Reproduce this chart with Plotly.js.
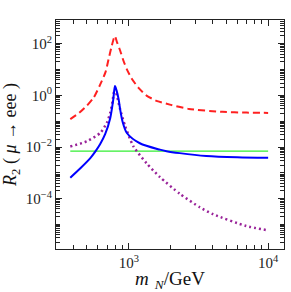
<!DOCTYPE html>
<html>
<head>
<meta charset="utf-8">
<script src="https://cdn.plot.ly/plotly-3.0.1.min.js"></script>
<style>html,body{margin:0;padding:0;background:#fff;}#chart{width:291px;height:292px;}</style>
</head>
<body>
<div id="chart"></div>
<script>
// m_N in GeV
var redX = [380, 440, 500, 560, 620, 680, 715, 755, 780, 795, 820, 866, 915, 970, 1050, 1170, 1340, 1600, 2000, 2700, 4700, 7000, 10000];
var redY = [0.12, 0.21, 0.4, 0.83, 2.5, 8, 25, 85, 160, 200, 120, 55, 22, 10, 4.4, 2.0, 0.98, 0.6, 0.43, 0.3, 0.23, 0.215, 0.21];

var blueX = [380, 449, 529, 574, 623, 677, 735, 772, 795, 815, 843, 870, 900, 968, 1200, 1670, 1865, 2320, 3600, 6000, 10000];
var blueY = [6.5e-4, 1.5e-3, 3.7e-3, 6.6e-3, 0.013, 0.032, 0.13, 0.65, 2.3, 1.6, 0.75, 0.25, 0.1, 0.035, 0.014, 7.9e-3, 6.9e-3, 5.8e-3, 4.5e-3, 4.0e-3, 3.8e-3];

var purpleX = [380, 500, 623, 696, 735, 765, 780, 795, 820, 866, 940, 1080, 1345, 1670, 2320, 3240, 4020, 6960, 10000];
var purpleY = [0.0105, 0.0166, 0.035, 0.087, 0.21, 0.6, 1.3, 1.8, 1.0, 0.29, 0.065, 0.0105, 2.3e-3, 6.9e-4, 1.55e-4, 4.6e-5, 2.5e-5, 8.7e-6, 5.9e-6];

var greenX = [380, 10000];
var greenY = [0.0069, 0.0069];

var xTickVals = [1000, 10000];
var xTickText = ['10<sup>3</sup>', '10<sup>4</sup>'];
var yTickVals = [1e-4, 1e-2, 1, 100];
var yTickText = ['10<sup>\u22124</sup>', '10<sup>\u22122</sup>', '10<sup>0</sup>', '10<sup>2</sup>'];

function minorTicks(lo, hi, majors) {
  var out = [];
  for (var e = lo; e <= hi; e++) {
    for (var k = 1; k <= 9; k++) {
      var v = k * Math.pow(10, e);
      var isMajor = majors.some(function (m) { return Math.abs(m - v) / v < 1e-9; });
      if (!isMajor) out.push(v);
    }
  }
  return out;
}

var axisCommon = {
  type: 'log',
  showgrid: false,
  zeroline: false,
  showline: true,
  linecolor: '#222',
  linewidth: 1,
  mirror: 'allticks',
  ticks: 'inside',
  ticklen: 6,
  tickwidth: 1,
  tickcolor: '#222',
  tickmode: 'array',
  tickfont: {family: 'Liberation Serif, Times New Roman, serif', size: 15, color: '#222'}
};

var xaxis = Object.assign({}, axisCommon, {
  range: [Math.log10(300), Math.log10(13000)],
  tickvals: xTickVals,
  ticktext: xTickText,
  minor: {tickmode: 'array', tickvals: minorTicks(2, 4, xTickVals), ticklen: 4, tickwidth: 1, tickcolor: '#222', ticks: 'inside', showgrid: false},
  title: {text: '<i>m</i><sub>\u2009 <i>N</i></sub>/GeV', font: {family: 'Liberation Serif, Times New Roman, serif', size: 19, color: '#111'}, standoff: 6}
});

var yaxis = Object.assign({}, axisCommon, {
  range: [-5.95, 2.92],
  tickvals: yTickVals,
  ticktext: yTickText,
  minor: {tickmode: 'array', tickvals: minorTicks(-6, 2, yTickVals), ticklen: 4, tickwidth: 1, tickcolor: '#222', ticks: 'inside', showgrid: false},
  title: {text: '<i>R</i><sub>2</sub> ( <i>\u03bc</i> \u2192 eee )', font: {family: 'Liberation Serif, Times New Roman, serif', size: 18, color: '#111'}, standoff: 4}
});

var traces = [
  {x: greenX, y: greenY, mode: 'lines', line: {color: '#33ee33', width: 1.3}, hoverinfo: 'skip'},
  {x: purpleX, y: purpleY, mode: 'lines', line: {color: '#992299', width: 2.5, dash: '2px,3px', shape: 'spline', smoothing: 0.6}, hoverinfo: 'skip'},
  {x: blueX, y: blueY, mode: 'lines', line: {color: '#0000ff', width: 2, shape: 'spline', smoothing: 0.8}, hoverinfo: 'skip'},
  {x: redX, y: redY, mode: 'lines', line: {color: '#ff2020', width: 2, dash: '7px,4px', shape: 'spline', smoothing: 0.6}, hoverinfo: 'skip'}
];

var layout = {
  width: 291,
  height: 292,
  margin: {l: 56, r: 7, t: 20, b: 43},
  paper_bgcolor: '#fff',
  plot_bgcolor: '#fff',
  showlegend: false,
  xaxis: xaxis,
  yaxis: yaxis,
  shapes: [{type: 'line', xref: 'paper', x0: 0, x1: 1, yref: 'y', y0: 0, y1: 0, line: {color: '#cccccc', width: 1}, layer: 'below'}]
};

Plotly.newPlot('chart', traces, layout, {staticPlot: true, displayModeBar: false});
</script>
</body>
</html>
